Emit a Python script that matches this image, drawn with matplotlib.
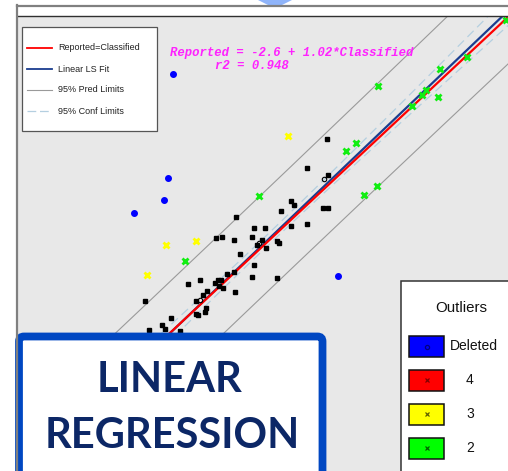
import matplotlib.pyplot as plt
import numpy as np
from matplotlib.patches import Rectangle, FancyBboxPatch, Polygon

# fitted model printed on the chart
intercept = -2.6
slope = 1.02
r2 = 0.948

# spread used for the 95% limit curves
n_obs = 80
x_mean = 145.0
sxx = 30000.0
t_s = 10.2

# points kept in the fit (Classified, Reported)
kept_x = [156.9, 153.2, 157.1, 150.2, 150.8, 148.3, 156.2, 157.1, 150.3, 153.2,
          139.9, 143.4, 145.4, 136.2, 137.4, 139.6, 142.9, 144.9, 143.8, 145.5,
          147.7, 148.0, 140.7, 143.3, 143.0, 147.6, 138.3, 139.6, 133.2, 131.0,
          136.0, 136.5, 137.1, 136.7, 137.5, 134.5, 133.8, 139.8, 132.5, 134.3,
          134.2, 132.4, 132.8, 127.8, 126.1, 126.7, 123.6, 129.4, 123.0]
kept_y = [166.5, 160.7, 159.3, 154.1, 153.2, 152.1, 152.6, 152.7, 149.1, 149.5,
          150.8, 148.7, 148.6, 146.7, 146.9, 146.2, 146.9, 146.3, 145.3, 144.7,
          146.1, 145.6, 143.4, 141.3, 138.9, 138.7, 139.5, 139.8, 138.2, 137.5,
          137.7, 138.3, 138.2, 137.1, 136.7, 136.0, 135.3, 135.8, 134.0, 132.7,
          131.8, 131.5, 131.2, 130.6, 129.3, 128.4, 128.2, 128.0, 134.1]
hollow_x = [156.4, 144.3, 133.2]
hollow_y = [158.5, 145.7, 134.2]

# outliers
deleted_x = [128.1, 127.2, 126.4, 120.8, 159.0]
deleted_y = [179.5, 158.6, 154.2, 151.7, 139.1]
out3_x = [149.7, 126.9, 132.5, 123.3]
out3_y = [167.0, 145.3, 146.0, 139.3]
out2_x = [160.5, 144.2, 130.5, 166.5, 178.1, 175.5, 174.7, 177.7, 172.9, 183.1,
          190.4, 162.4, 166.3, 163.8]
out2_y = [164.1, 155.1, 142.1, 177.0, 180.5, 176.3, 175.3, 174.9, 173.1, 182.9,
          190.3, 165.7, 157.0, 155.2]

legend_labels = ['Reported=Classified', 'Linear LS Fit', '95% Pred Limits', '95% Conf Limits']
outlier_labels = ['Deleted', '4', '3', '2']
outlier_colors = ['#0000ff', '#ff0000', '#ffff00', '#00ff00']
outlier_marks = ['#000080', '#800000', '#606000', '#006000']

W, H = 508, 471
fig = plt.figure(figsize=(W / 100, H / 100), dpi=100)
fig.patch.set_facecolor('white')

ax = fig.add_axes([18 / W, 0, 490 / W, 455 / H])
ax.set_facecolor('#e8e8e8')
ax.set_xlim(99.2, 190.8)
ax.set_ylim(100, 191)
ax.set_xticks([])
ax.set_yticks([])
for s in ['left', 'right', 'bottom']:
    ax.spines[s].set_visible(False)
ax.spines['top'].set_color('#303030')
ax.spines['top'].set_linewidth(1.0)

xs = np.linspace(95, 195, 200)
fit = intercept + slope * xs
d = (xs - x_mean) ** 2 / sxx
pred_hw = t_s * np.sqrt(1 + 1 / n_obs + d)
conf_hw = t_s * np.sqrt(1 / n_obs + d)

ax.plot(xs, fit + pred_hw, color='#9a9a9a', lw=0.8)
ax.plot(xs, fit - pred_hw, color='#9a9a9a', lw=0.8)
ax.plot(xs, fit + conf_hw, color='#b4cfe0', lw=0.9, ls=(0, (7, 4)))
ax.plot(xs, fit - conf_hw, color='#b4cfe0', lw=0.9, ls=(0, (7, 4)))
ax.plot(xs, fit, color='#1a3d8f', lw=1.6)
ax.plot(xs, xs, color='#ff0000', lw=1.6)

ax.plot(kept_x, kept_y, 's', color='black', ms=2.9)
ax.plot(hollow_x, hollow_y, 'o', mfc='none', mec='black', ms=3.2, mew=0.8)
ax.plot(deleted_x, deleted_y, 'o', color='#0000ff', ms=4)
ax.plot(out3_x, out3_y, 'x', color='#ffff00', ms=5, mew=2)
ax.plot(out2_x, out2_y, 'x', color='#11ee11', ms=5, mew=2)

# overlay in pixel units for the frame, boxes and captions
ov = fig.add_axes([0, 0, 1, 1])
ov.set_xlim(0, W)
ov.set_ylim(H, 0)
ov.axis('off')
ov.patch.set_alpha(0)

ov.plot([17, 508], [6, 6], color='#808080', lw=1.6)
ov.plot([17, 17], [5, 471], color='#808080', lw=1.6)
ov.add_patch(Polygon([(258, 0), (292, 0), (282, 5), (268, 5)], closed=True,
                     fc='#8fb4fa', ec='none'))

# line legend
ov.add_patch(Rectangle((23, 28), 135, 104, fc='#a0a0a0', ec='none'))
ov.add_patch(Rectangle((22, 27), 135, 104, fc='white', ec='#555555', lw=0.9))
rows = [47.7, 69.3, 90, 111]
styles = [dict(color='#ff0000', lw=1.3), dict(color='#1a3d8f', lw=1.3),
          dict(color='#9a9a9a', lw=0.8), dict(color='#b4cfe0', lw=0.9, ls=(0, (7, 3)))]
for yy, lab, st in zip(rows, legend_labels, styles):
    ov.plot([27, 52], [yy, yy], **st)
    ov.text(58, yy, lab, fontsize=6.5, family='Liberation Sans', color='#222222',
            va='center', ha='left')

# equation
ov.text(170, 52.7, f'Reported = {intercept} + {slope}*Classified',
        family='Liberation Mono', weight='bold', style='italic', fontsize=8.8,
        color='#ff22ff', va='center', ha='left')
ov.text(215, 66, f'r2 = {r2}', family='Liberation Mono', weight='bold',
        style='italic', fontsize=8.8, color='#ff22ff', va='center', ha='left')

# outlier legend
ov.add_patch(Rectangle((401, 281), 130, 210, fc='white', ec='#333333', lw=1.1))
ov.text(461.7, 308.3, 'Outliers', fontsize=10.8, family='Liberation Sans',
        color='#111111', ha='center', va='center')
sw_top = [336, 369.5, 403.5, 437.5]
text_x = [450, 470, 470, 470]
for yy, lab, fc, mc, tx in zip(sw_top, outlier_labels, outlier_colors, outlier_marks, text_x):
    ov.add_patch(Rectangle((409, yy), 35, 21, fc=fc, ec='#111111', lw=1.1))
    ov.plot([426.5], [yy + 10.5], 'o' if lab == 'Deleted' else 'x', mfc='none',
            mec=mc, ms=3, mew=0.9)
    ov.text(tx, yy + 10.5, lab, fontsize=10, family='Liberation Sans',
            color='#111111', ha='left' if lab == 'Deleted' else 'center', va='center')

# title card
ov.add_patch(FancyBboxPatch((19, 336.5), 303.5, 160,
                            boxstyle='round,pad=0,rounding_size=5',
                            fc='white', ec='#0047c2', lw=5.6))
ov.text(170, 391.7, 'LINEAR', family='Lato', weight='bold', fontsize=30,
        color='#0c2766', ha='center', va='baseline')
ov.text(172, 448.3, 'REGRESSION', family='Lato', weight='bold', fontsize=30,
        color='#0c2766', ha='center', va='baseline')

fig.savefig('out.png', dpi=100)
